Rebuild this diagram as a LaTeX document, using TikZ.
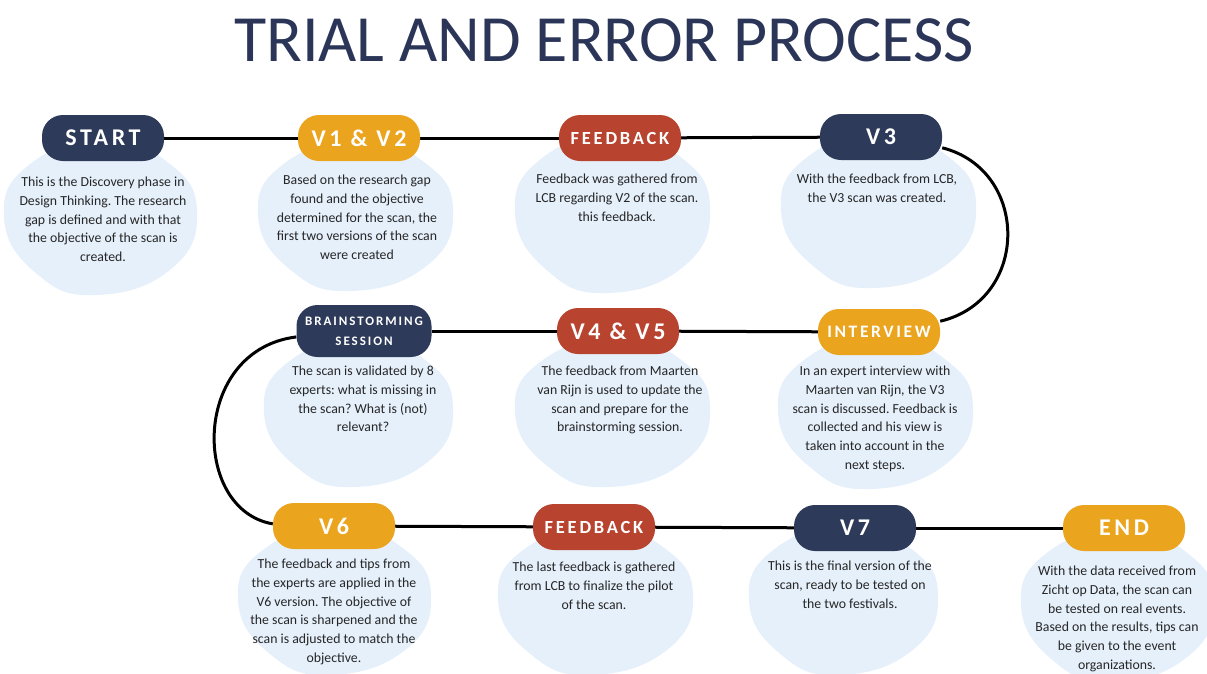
\documentclass[tikz,border=0pt]{standalone}
\usepackage{fontspec}
\setmainfont{Carlito}
\newfontfamily\pillfont[LetterSpace=15]{Carlito}
\usetikzlibrary{backgrounds}
\definecolor{navy}{HTML}{2E3A59}
\definecolor{orng}{HTML}{EBA41E}
\definecolor{redc}{HTML}{B8442F}
\definecolor{blobc}{HTML}{E6F0FB}
\definecolor{txtc}{HTML}{262626}
\definecolor{titlec}{HTML}{2B3558}
\newcommand{\myblob}[4]{%
  \fill[blobc] plot[smooth cycle, tension=0.8] coordinates {
    ({#1+1.00*#3},{#2+0.08*#4})
    ({#1+0.70*#3},{#2+0.70*#4})
    ({#1+0.05*#3},{#2+1.00*#4})
    ({#1-0.72*#3},{#2+0.68*#4})
    ({#1-0.99*#3},{#2+0.00*#4})
    ({#1-0.66*#3},{#2-0.72*#4})
    ({#1-0.04*#3},{#2-1.00*#4})
    ({#1+0.74*#3},{#2-0.66*#4})
  };}
\frenchspacing
\begin{document}
\begin{tikzpicture}[x=1pt,y=1pt,
  pill/.style={rounded corners=21pt, minimum width=122pt, minimum height=46pt,
    text=white, inner sep=0pt, font=\pillfont\bfseries\fontsize{24}{24}\selectfont},
  pillsm/.style={font=\pillfont\bfseries\fontsize{18.5}{18.5}\selectfont},
  navypill/.style={pill, fill=navy},
  orngpill/.style={pill, fill=orng},
  redpill/.style={pill, fill=redc},
  desc/.style={text=txtc, align=center, inner sep=0pt, anchor=north,
    font=\fontsize{13.8}{18.7}\selectfont},
  conn/.style={line width=3pt, black}]
\useasboundingbox (0,0) rectangle (1207,-673);

% title
\node[text=titlec, inner sep=0pt, font=\fontsize{66}{66}\selectfont] (title) at (604,-40) {TRIAL AND ERROR PROCESS};

% pills
\node[navypill] (start) at (103,-138) {START};
\node[orngpill] (v12) at (359,-138) {V1 \& V2};
\node[redpill, pillsm] (fb1) at (620,-138) {FEEDBACK};
\node[navypill] (v3) at (881,-137) {V3};

\node[navypill, minimum width=135pt, minimum height=52pt, align=center,
  font=\pillfont\bfseries\fontsize{13}{20}\selectfont] (brain) at (364,-331) {BRAINSTORMING\\SESSION};
\node[redpill] (v45) at (618,-331) {V4 \& V5};
\node[orngpill, pillsm, font=\pillfont\bfseries\fontsize{17.5}{17.5}\selectfont] (int) at (879,-332) {INTERVIEW};

\node[orngpill] (v6) at (334,-526) {V6};
\node[redpill, pillsm] (fb3) at (594,-527) {FEEDBACK};
\node[navypill] (v7) at (855,-528) {V7};
\node[orngpill] (end) at (1124,-528) {END};

% descriptions
\node[desc] (tstart) at (103,-177) {This is the Discovery phase in\\Design Thinking. The research\\gap is defined and with that\\the objective of the scan is\\created.};
\node[desc] (tv12) at (357,-175) {Based on the research gap\\found and the objective\\determined for the scan, the\\first two versions of the scan\\were created};
\node[desc] (tfb1) at (617,-174) {Feedback was gathered from\\LCB regarding V2 of the scan.\\this feedback.};
\node[desc] (tv3) at (877,-174) {With the feedback from LCB,\\the V3 scan was created.};
\node[desc] (tbrain) at (363,-366) {The scan is validated by 8\\experts: what is missing in\\the scan? What is (not)\\relevant?};
\node[desc] (tv45) at (620,-366) {The feedback from Maarten\\van Rijn is used to update the\\scan and prepare for the\\brainstorming session.};
\node[desc] (tint) at (875,-366) {In an expert interview with\\Maarten van Rijn, the V3\\scan is discussed. Feedback is\\collected and his view is\\taken into account in the\\next steps.};
\node[desc] (tv6) at (334,-559) {The feedback and tips from\\the experts are applied in the\\V6 version. The objective of\\the scan is sharpened and the\\scan is adjusted to match the\\objective.};
\node[desc] (tfb3) at (594,-562) {The last feedback is gathered\\from LCB to finalize the pilot\\of the scan.};
\node[desc] (tv7) at (850,-561) {This is the final version of the\\scan, ready to be tested on\\the two festivals.};
\node[desc] (tend) at (1117,-566) {With the data received from\\Zicht op Data, the scan can\\be tested on real events.\\Based on the results, tips can\\be given to the event\\organizations.};

\begin{scope}[on background layer]
  \myblob{100}{-217}{97}{78}
  \myblob{355}{-215}{98}{76}
  \myblob{612}{-213}{98}{80}
  \myblob{878}{-210}{98}{78}
  \myblob{358}{-412}{95}{75}
  \myblob{612}{-412}{98}{75}
  \myblob{875}{-412}{98}{77}
  \myblob{334}{-600}{97}{75}
  \myblob{595}{-600}{98}{75}
  \myblob{843}{-600}{95}{75}
  \myblob{1117}{-605}{97}{77}
  % connectors
  \draw[conn] (start) -- (v12);
  \draw[conn] (v12) -- (fb1);
  \draw[conn] (fb1) -- (v3);
  \draw[conn] (v3.-10) .. controls (1030,-170) and (1030,-300) .. (int.10);
  \draw[conn] (int) -- (v45);
  \draw[conn] (v45) -- (brain);
  \draw[conn] (brain.185) .. controls (191,-350) and (191,-510) .. (v6.178);
  \draw[conn] (v6) -- (fb3);
  \draw[conn] (fb3) -- (v7);
  \draw[conn] (v7) -- (end);
\end{scope}
\end{tikzpicture}
\end{document}
